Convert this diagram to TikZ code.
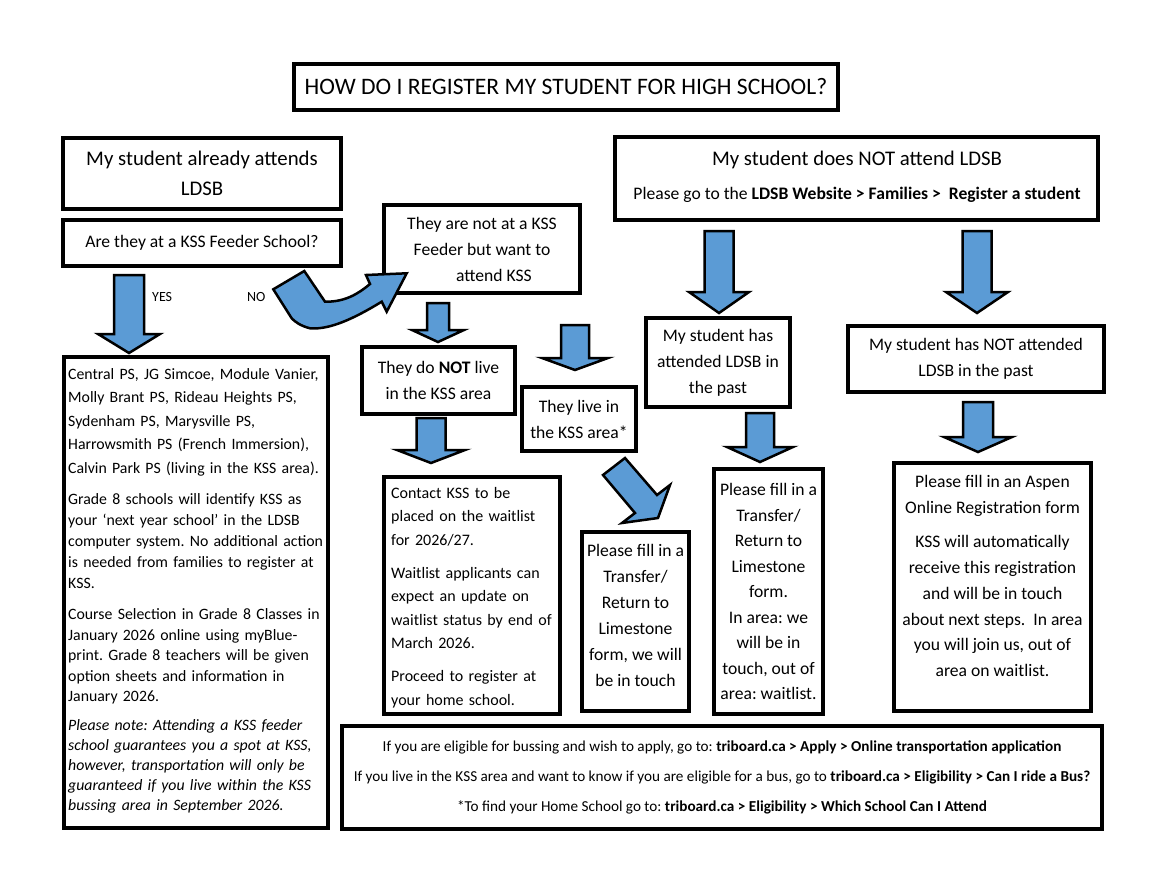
\documentclass[tikz,border=0pt]{standalone}
\usepackage{fontspec}
\setmainfont{Carlito}
\definecolor{arrowblue}{HTML}{5B9BD5}
\tikzset{
  box/.style={draw=black, line width=4pt, inner sep=0pt, fill=white, align=center},
  barrow/.style={draw=black, line width=2.5pt, fill=arrowblue, line join=miter},
  txt/.style={inner sep=0pt, align=center},
  bodyf/.style={font=\fontsize{17.6}{26}\selectfont},
}
\newcommand\boxat[6]{\node[box, minimum width={#4-#2}, minimum height={#5-#3}, #6] (#1) at ({(#2+#4)/2},{(#3+#5)/2})}
\newcommand\dnarrow[6]{\draw[barrow] (#1-#2,#3) -- (#1+#2,#3) -- (#1+#2,#4) -- (#1+#5,#4) -- (#1,#6) -- (#1-#5,#4) -- (#1-#2,#4) -- cycle;}
\begin{document}
\frenchspacing
\begin{tikzpicture}[x=1pt,y=-1pt]
\useasboundingbox (0,0) rectangle (1152,883);
\fill[white] (0,0) rectangle (1152,883);

% title
\boxat{title}{294}{64}{838}{110}{font=\fontsize{23.6}{26}\selectfont} {HOW DO I REGISTER MY STUDENT FOR HIGH SCHOOL?};

% left column
\boxat{A}{63}{138}{341}{209}{font=\fontsize{20.8}{30}\selectfont} {My student already attends\\LDSB};
\boxat{B}{63}{220}{341}{266}{bodyf} {Are they at a KSS Feeder School?};
\boxat{I}{64}{357}{328}{828}{} {};
\node[txt, anchor=north west, text width=262pt, align=left, font=\fontsize{15.8}{23.5}\selectfont] (Itext) at (68,368) {%
Central PS, JG Simcoe, Module Vanier,\\ Molly Brant PS, Rideau Heights PS,\\ Sydenham PS, Marysville PS,\\ Harrowsmith PS (French Immersion),\\ Calvin Park PS (living in the KSS area).\par
\fontsize{15.8}{21}\selectfont\vspace{10pt}
Grade 8 schools will identify KSS as\\ your ‘next year school’ in the LDSB\\ computer system. No additional action\\ is needed from families to register at\\ KSS.\par
\fontsize{15.8}{20.5}\selectfont\vspace{11pt}
Course Selection in Grade 8 Classes in\\ January 2026 online using myBlue-\\ print. Grade 8 teachers will be given\\ option sheets and information in\\ January 2026.\par
\fontsize{15.8}{20}\selectfont\vspace{9pt}\itshape
Please note: Attending a KSS feeder\\ school guarantees you a spot at KSS,\\ however, transportation will only be\\ guaranteed if you live within the KSS\\ bussing area in September 2026.\par};

% middle
\boxat{C}{384}{205}{580}{293}{bodyf} {They are not at a KSS\\Feeder but want to\\\hspace*{24pt}attend KSS};
\boxat{E}{362}{347}{515}{414}{bodyf} {They do \textbf{NOT} live\\in the KSS area};
\boxat{F}{522}{387}{636}{451}{bodyf} {They live in\\the KSS area*};
\boxat{J}{384}{477}{560}{714}{} {};
\node[txt, anchor=north west, text width=172pt, align=left, font=\fontsize{16}{23.5}\selectfont] (Jtext) at (391,487) {%
Contact KSS to be\\ placed on the waitlist\\ for 2026/27.\par\vspace{9.5pt}
Waitlist applicants can\\ expect an update on\\ waitlist status by end of\\ March 2026.\par\vspace{9.5pt}
Proceed to register at\\ your home school.\par};
\boxat{K}{582}{532}{689}{711}{} {};
\node[txt, bodyf] (Ktext) at (635.5,615) {Please fill in a\\Transfer/\\Return to\\Limestone\\form, we will\\be in touch};

% right
\boxat{D}{615}{137}{1098}{220}{} {};
\node[txt, font=\fontsize{20.8}{26}\selectfont] (D1) at (857,160) {My student does NOT attend LDSB};
\node[txt, font=\fontsize{17.6}{20}\selectfont] (D2) at (857,195) {Please go to the \textbf{LDSB Website > Families >\ \ Register a student}};
\boxat{G}{646}{318}{790}{407}{bodyf} {My student has\\attended LDSB in\\the past};
\boxat{H}{848}{326}{1104}{392}{bodyf} {My student has NOT attended\\LDSB in the past};
\boxat{L}{714}{469}{823}{714}{font=\fontsize{17.6}{25.5}\selectfont} {Please fill in a\\Transfer/\\Return to\\Limestone\\form.\\In area: we\\will be in\\touch, out of\\area: waitlist.};
\boxat{M}{894}{463}{1091}{711}{} {};
\node[txt, font=\fontsize{17.6}{25.7}\selectfont] (Mtext) at (992.5,576) {Please fill in an Aspen\\Online Registration form\\[9pt]KSS will automatically\\receive this registration\\and will be in touch\\about next steps.\ \ In area\\you will join us, out of\\area on waitlist.};

% bottom
\boxat{N}{342}{726}{1102}{829}{font=\fontsize{15.2}{30}\selectfont} {If you are eligible for bussing and wish to apply, go to: \textbf{triboard.ca > Apply > Online transportation application}\\If you live in the KSS area and want to know if you are eligible for a bus, go to \textbf{triboard.ca > Eligibility > Can I ride a Bus?}\\{*}To find your Home School go to: \textbf{triboard.ca > Eligibility > Which School Can I Attend}};

% labels
\node[txt, anchor=west, font=\fontsize{14}{16}\selectfont] (yes) at (152,297) {YES};
\node[txt, anchor=west, font=\fontsize{14}{16}\selectfont] (no) at (247,297) {NO};

% block arrows
\dnarrow{129}{15}{275}{334}{31}{353}
\dnarrow{438}{11}{303}{330}{26}{342}
\dnarrow{575}{14}{325}{358}{33}{370}
\dnarrow{431}{14.5}{418}{450}{34}{463}
\dnarrow{719}{14.5}{231}{292}{30}{313}
\dnarrow{977}{14.5}{231}{292}{31}{313}
\dnarrow{760}{14}{413}{447}{33}{462}
\dnarrow{978}{15}{402}{437}{34}{452}
% NO curved arrow
\draw[barrow] (273.3,289.3) -- (304.3,271) -- (325,301.7) .. controls (345,302) and (358,294) .. (370,284) -- (366,275) -- (406.7,273.3) -- (386.7,311.7) -- (381.7,301.7) .. controls (355,318) and (330,330) .. (310,328.3) .. controls (301,326) and (295,322) .. (291.7,318.3) -- cycle;
% F to K diagonal arrow
\draw[barrow] (603,475) -- (625,458) -- (657,495) -- (670,485) -- (658,518) -- (622,523) -- (635,513) -- cycle;
\end{tikzpicture}
\end{document}
